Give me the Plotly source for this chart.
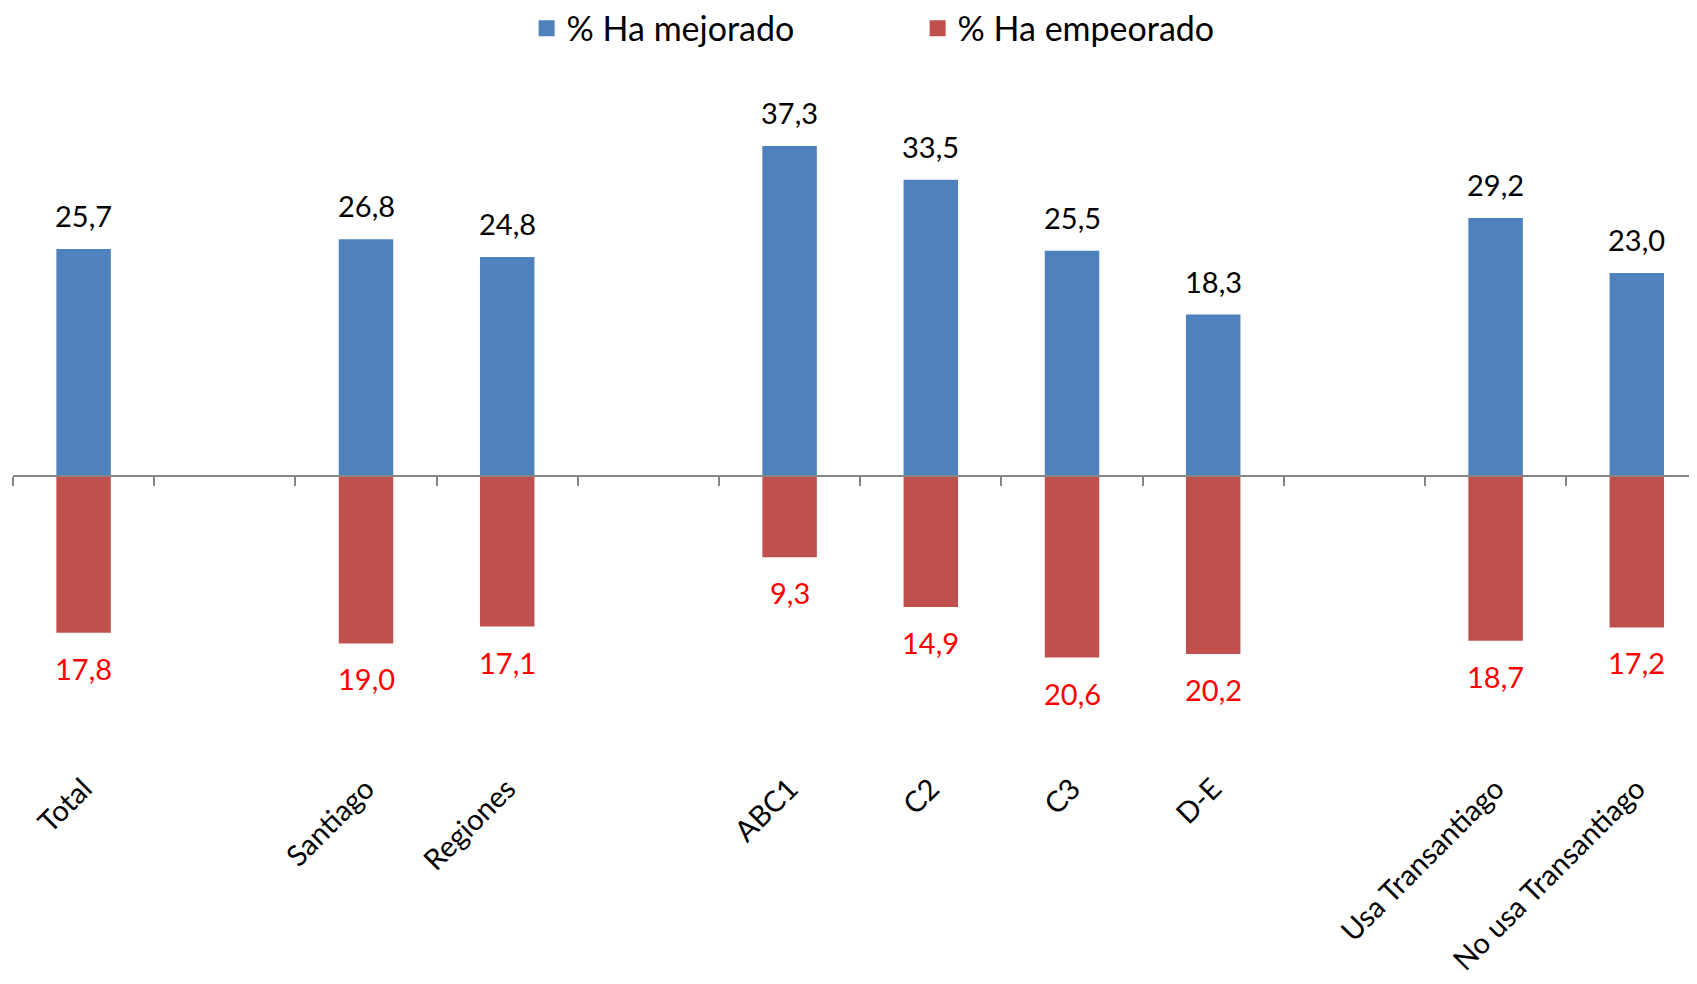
import plotly.graph_objects as go

# slots along the x axis; None = empty gap between groups
slots = ["Total", None, "Santiago", "Regiones", None,
         "ABC1", "C2", "C3", "D-E", None,
         "Usa Transantiago", "No usa Transantiago"]
mejorado = [25.7, 26.8, 24.8, 37.3, 33.5, 25.5, 18.3, 29.2, 23.0]
empeorado = [17.8, 19.0, 17.1, 9.3, 14.9, 20.6, 20.2, 18.7, 17.2]

BLUE = "#4F81BD"
RED = "#C0504D"
FONT = "Lato"

xpos = [i for i, s in enumerate(slots) if s is not None]
labels = [s for s in slots if s is not None]

def fmt(v):
    return f"{v:.1f}".replace(".", ",")

fig = go.Figure()
fig.add_trace(go.Bar(x=xpos, y=mejorado, width=0.4, marker=dict(color=BLUE, line=dict(color="white", width=2)),
                     showlegend=False, name="% Ha mejorado"))
fig.add_trace(go.Bar(x=xpos, y=[-v for v in empeorado], width=0.4,
                     marker=dict(color=RED, line=dict(color="white", width=2)),
                     showlegend=False, name="% Ha empeorado"))
# legend entries with bigger square markers
for name, col in [("% Ha mejorado", BLUE), ("% Ha empeorado", RED)]:
    fig.add_trace(go.Scatter(x=[None], y=[None], mode="markers", name=name,
                             marker=dict(symbol="square", size=20, color=col)))
# invisible trace to carry the zero-line axis
fig.add_trace(go.Scatter(x=[None], y=[None], xaxis="x2", showlegend=False))

ann = []
for x, v in zip(xpos, mejorado):
    ann.append(dict(x=x, y=v, text=fmt(v), showarrow=False, yanchor="bottom", yshift=13,
                    font=dict(family=FONT, size=29, color="black")))
for x, v in zip(xpos, empeorado):
    ann.append(dict(x=x, y=-v, text=fmt(v), showarrow=False, yanchor="top", yshift=-15,
                    font=dict(family=FONT, size=29, color="#FF0000")))

ymin, ymax = -32.6, 44.64
xmax = -0.5 + 1684 / 141.2

fig.update_layout(
    width=1697, height=984,
    margin=dict(l=5, r=8, t=72, b=227, autoexpand=False),
    paper_bgcolor="white", plot_bgcolor="white",
    barmode="relative",
    annotations=ann,
    font=dict(family=FONT, size=29, color="black"),
    legend=dict(orientation="h", x=0.305, xanchor="left", y=1.075, yanchor="middle",
                font=dict(family=FONT, size=34), entrywidth=346, entrywidthmode="pixels",
                bgcolor="rgba(0,0,0,0)"),
    xaxis=dict(range=[-0.5, xmax], tickvals=xpos, ticktext=labels, tickangle=-45,
               showgrid=False, zeroline=False, showline=False, ticks="", automargin=False,
               tickfont=dict(family=FONT, size=29, color="black")),
    xaxis2=dict(range=[-0.5, xmax], overlaying="x", anchor="free",
                position=(0 - ymin) / (ymax - ymin),
                tickvals=[i - 0.5 for i in range(len(slots) + 1)],
                showticklabels=False, ticks="outside", ticklen=9, tickwidth=2,
                tickcolor="#868686", showline=True, linecolor="#868686", linewidth=2,
                showgrid=False, zeroline=False, automargin=False),
    yaxis=dict(range=[ymin, ymax], visible=False, showgrid=False, zeroline=False, automargin=False),
)

fig.write_html("out.html")
